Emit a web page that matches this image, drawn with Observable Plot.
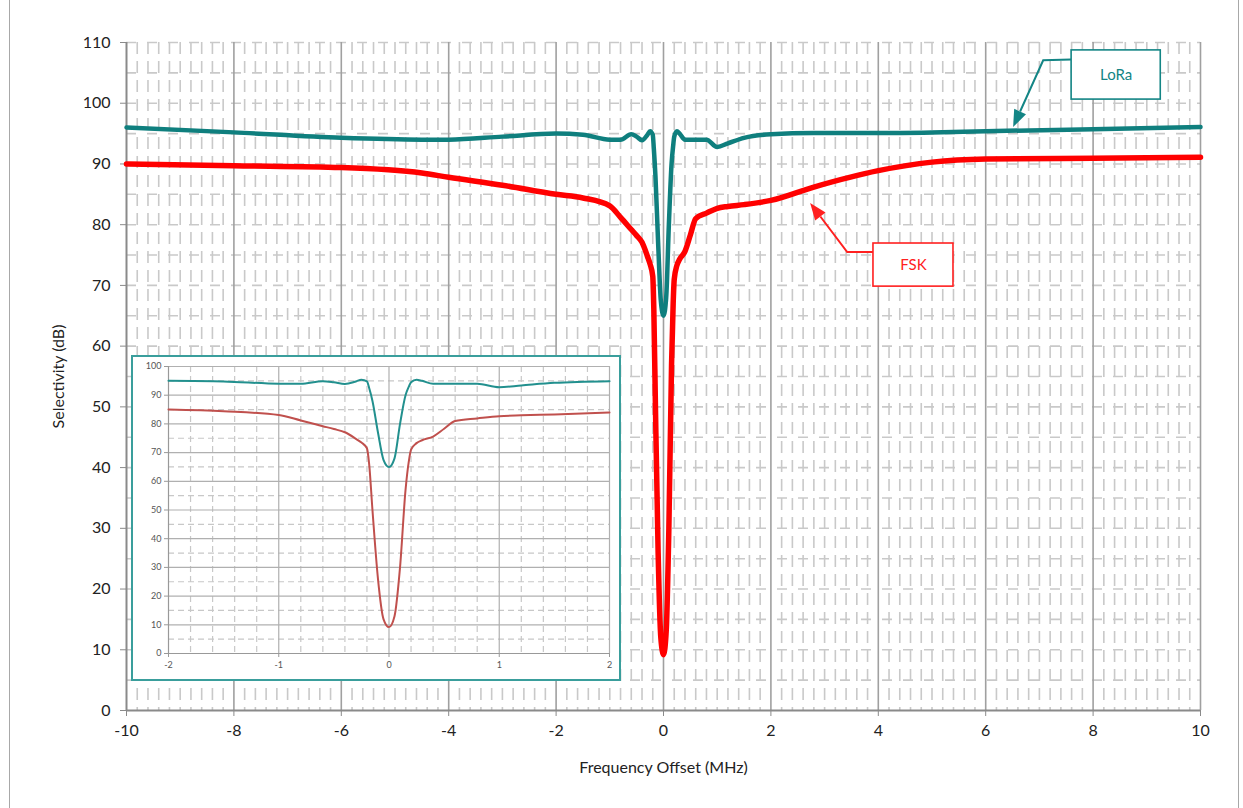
<!DOCTYPE html>
<html>
<head>
<meta charset="utf-8">
<script src="https://cdn.jsdelivr.net/npm/d3@7"></script>
<script src="https://cdn.jsdelivr.net/npm/@observablehq/plot@0.6"></script>
<style>
  html, body { margin: 0; padding: 0; background: #fff; }
  #page { position: relative; width: 1243px; height: 808px; overflow: hidden; background: #fff; }
  .edge { position: absolute; top: 0; width: 0; height: 808px; border-left: 1.5px solid #a8a8a8; }
  #inset { position: absolute; left: 131px; top: 355px; width: 486px; height: 322px; border: 2px solid #3a9e9c; background: #fff; }
</style>
</head>
<body>
<div id="page">
  <div class="edge" style="left:9px"></div>
  <div class="edge" style="left:1238px"></div>
  <div id="main"></div>
  <div id="inset"></div>
</div>
<script>
// ---- data (MHz offset, selectivity dB) ----
const freq = [-10, -8, -6, -4.5, -4, -3, -2, -1.5, -1, -0.8, -0.6, -0.5, -0.4, -0.3, -0.25, -0.2, -0.18, -0.15, -0.1, -0.05, 0, 0.05, 0.1, 0.15, 0.18, 0.2, 0.25, 0.3, 0.4, 0.5, 0.6, 0.8, 1.0, 1.2, 1.5, 2, 2.8, 4, 5, 6, 8, 10];
const lora = [96.0, 95.2, 94.3, 94.0, 94.0, 94.5, 95.0, 94.8, 94.0, 94.0, 94.9, 94.5, 93.9, 94.8, 95.4, 94.8, 92.5, 88, 77, 67.5, 65, 68, 80, 90, 93, 94.5, 95.4, 95.0, 94.0, 94.0, 94.0, 94.0, 92.8, 93.4, 94.3, 94.9, 95.1, 95.1, 95.2, 95.4, 95.7, 96.1];
const fsk  = [90.0, 89.7, 89.4, 88.5, 87.8, 86.5, 85.0, 84.4, 83.1, 81.2, 79.2, 78.2, 77.1, 74.8, 73.5, 71.5, 66, 50, 26, 12, 9.2, 13, 30, 57, 67, 71, 73.3, 74.3, 75.6, 78.3, 81.0, 81.9, 82.7, 83.0, 83.3, 84.0, 86.2, 88.9, 90.3, 90.8, 90.95, 91.1];

const xTicks = [-10, -8, -6, -4, -2, 0, 2, 4, 6, 8, 10];
const yTicks = [0, 10, 20, 30, 40, 50, 60, 70, 80, 90, 100, 110];
const insetXTicks = [-2, -1, 0, 1, 2];
const insetYTicks = [0, 10, 20, 30, 40, 50, 60, 70, 80, 90, 100];

// annotation callouts (data coordinates)
const calloutName = ["LoRa", "FSK"];
const calloutBoxX1 = [7.6, 3.91];
const calloutBoxX2 = [9.26, 5.40];
const calloutBoxY1 = [100.6, 69.8];
const calloutBoxY2 = [108.7, 76.9];
const calloutStartX = [7.6, 3.91];
const calloutStartY = [107.1, 75.4];
const calloutElbowX = [7.08, 3.43];
const calloutElbowY = [107.0, 75.4];
const calloutTipX = [6.52, 2.74];
const calloutTipY = [96.0, 83.5];
const calloutColor = ["#138585", "#ff2020"];

const data = freq.map((f, i) => ({f, lora: lora[i], fsk: fsk[i]}));
const callouts = calloutName.map((n, i) => ({
  name: n, x1: calloutBoxX1[i], x2: calloutBoxX2[i], y1: calloutBoxY1[i], y2: calloutBoxY2[i],
  cx: (calloutBoxX1[i] + calloutBoxX2[i]) / 2, cy: (calloutBoxY1[i] + calloutBoxY2[i]) / 2,
  sx: calloutStartX[i], sy: calloutStartY[i], ex: calloutElbowX[i], ey: calloutElbowY[i],
  tx: calloutTipX[i], ty: calloutTipY[i], color: calloutColor[i]
}));

const font = "Lato, 'Open Sans', 'Liberation Sans', sans-serif";
const plain = d => String(d);

const minorX = d3.range(-100, 101, 2).map(v => v / 10).filter(v => Math.abs(v % 2) > 1e-9);
const majorX = xTicks.filter(v => v !== -10);
const minorY = d3.range(5, 111, 5);

function leaders(index, scales) {
  const {x, y} = scales;
  const g = d3.create("svg:g");
  for (const c of callouts) {
    const p0 = [x(c.sx), y(c.sy)], p1 = [x(c.ex), y(c.ey)], p2 = [x(c.tx), y(c.ty)];
    const dx = p2[0] - p1[0], dy = p2[1] - p1[1], L = Math.hypot(dx, dy);
    const ux = dx / L, uy = dy / L, nx = -uy, ny = ux;
    const hl = 17, hw = 6.5;
    const b = [p2[0] - ux * hl, p2[1] - uy * hl];
    g.append("polyline")
      .attr("points", [p0, p1, b].map(p => p.join(",")).join(" "))
      .attr("fill", "none").attr("stroke", c.color).attr("stroke-width", 2);
    g.append("polygon")
      .attr("points", [p2, [b[0] + nx * hw, b[1] + ny * hw], [b[0] - nx * hw, b[1] - ny * hw]].map(p => p.join(",")).join(" "))
      .attr("fill", c.color);
  }
  return g.node();
}

const main = Plot.plot({
  width: 1243, height: 808,
  marginLeft: 126, marginRight: 43, marginTop: 42, marginBottom: 98,
  style: {fontFamily: font, fontSize: "16px", color: "#222", background: "transparent", overflow: "visible"},
  x: {domain: [-10, 10]},
  y: {domain: [0, 110]},
  marks: [
    Plot.ruleX(minorX, {stroke: "#c9c9c9", strokeWidth: 1.6, strokeDasharray: "12,7"}),
    Plot.ruleY(minorY, {stroke: "#c9c9c9", strokeWidth: 1.6, strokeDasharray: "10,11"}),
    Plot.ruleX(majorX, {stroke: "#a0a0a0", strokeWidth: 1.6}),
    Plot.ruleX([-10], {stroke: "#8a8a8a", strokeWidth: 2}),
    Plot.ruleY([0], {stroke: "#8a8a8a", strokeWidth: 2}),
    Plot.axisX({ticks: xTicks, tickFormat: plain, tickSize: 6, tickPadding: 8, stroke: "#8a8a8a", fontSize: 16,
      label: "Frequency Offset (MHz)", labelAnchor: "center", labelOffset: 62, labelArrow: "none"}),
    Plot.axisY({ticks: yTicks, tickFormat: plain, tickSize: 6, tickPadding: 10, stroke: "#8a8a8a", fontSize: 16,
      label: "Selectivity (dB)", labelAnchor: "center", labelOffset: 74, labelArrow: "none"}),
    Plot.line(data, {x: "f", y: "lora", stroke: "#0f7f7e", strokeWidth: 4.5, curve: "monotone-x"}),
    Plot.line(data, {x: "f", y: "fsk", stroke: "#ff0000", strokeWidth: 5.5, curve: "monotone-x"}),
    leaders,
    Plot.rect(callouts, {x1: "x1", x2: "x2", y1: "y1", y2: "y2", fill: "white", stroke: "color", strokeWidth: 1.6}),
    Plot.text(callouts, {x: "cx", y: "cy", text: "name", fill: "color", fontSize: 15})
  ]
});
document.getElementById("main").appendChild(main);

const iMinorX = d3.range(-20, 21, 2).map(v => v / 10).filter(v => Math.abs(v % 1) > 1e-9);
const iMinorY = d3.range(5, 101, 10);
const inset = Plot.plot({
  width: 486, height: 322,
  marginLeft: 35, marginRight: 10, marginTop: 9, marginBottom: 26,
  style: {fontFamily: font, fontSize: "9px", color: "#555", background: "white"},
  x: {domain: [-2, 2]},
  y: {domain: [0, 100]},
  marks: [
    Plot.ruleX(iMinorX, {stroke: "#c8c8c8", strokeWidth: 1.2, strokeDasharray: "6,4"}),
    Plot.ruleY(iMinorY, {stroke: "#c8c8c8", strokeWidth: 1.2, strokeDasharray: "6,4"}),
    Plot.ruleX([-1, 0, 1, 2], {stroke: "#b0b0b0", strokeWidth: 1.2}),
    Plot.ruleY(insetYTicks.filter(v => v > 0), {stroke: "#b0b0b0", strokeWidth: 1.2}),
    Plot.ruleX([-2], {stroke: "#999", strokeWidth: 1.2}),
    Plot.ruleY([0], {stroke: "#999", strokeWidth: 1.2}),
    Plot.axisX({ticks: insetXTicks, tickFormat: plain, tickSize: 4, tickPadding: 4, stroke: "#999", fontSize: 9, label: null}),
    Plot.axisY({ticks: insetYTicks, tickFormat: plain, tickSize: 4, tickPadding: 3, stroke: "#999", fontSize: 9, label: null}),
    Plot.line(data.filter(d => d.f >= -2 && d.f <= 2), {x: "f", y: "lora", stroke: "#22908e", strokeWidth: 2, curve: "monotone-x"}),
    Plot.line(data.filter(d => d.f >= -2 && d.f <= 2), {x: "f", y: "fsk", stroke: "#c0504d", strokeWidth: 2, curve: "monotone-x"})
  ]
});
document.getElementById("inset").appendChild(inset);
</script>
</body>
</html>
